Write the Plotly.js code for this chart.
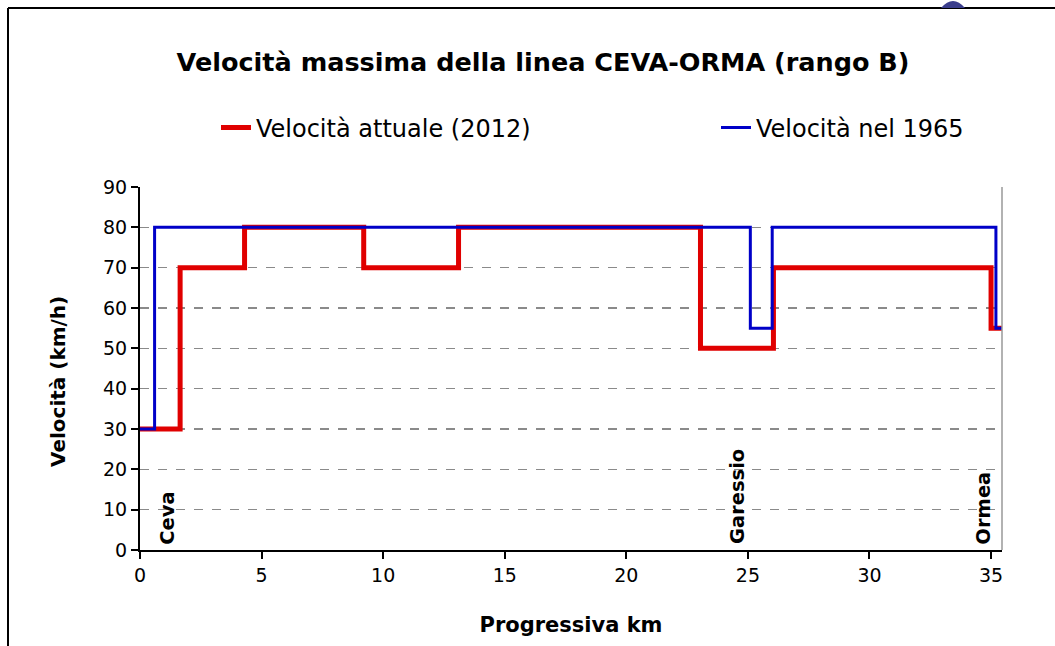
<!DOCTYPE html>
<html>
<head>
<meta charset="utf-8">
<script src="https://cdn.plot.ly/plotly-3.0.1.min.js"></script>
<style>html,body{margin:0;padding:0;background:#fff;}#chart{width:1055px;height:646px;}</style>
</head>
<body>
<div id="chart"></div>
<script>
// ---- data ----
const kmAttuale = [0, 1.65, 4.3, 9.2, 13.1, 23.05, 26.05, 35.0, 35.45];
const velAttuale = [30, 70, 80, 70, 80, 50, 70, 55, 55];
const km1965 = [0, 0.6, 25.1, 26.0, 35.2, 35.45];
const vel1965 = [30, 80, 55, 80, 55, 55];
const stationNames = ["Ceva", "Garessio", "Ormea"];
const stationKm = [1.15, 24.6, 34.7];
const seriesNames = ["Velocità attuale (2012)", "Velocità nel 1965"];
const yTicks = [0, 10, 20, 30, 40, 50, 60, 70, 80, 90];
const xTicks = [0, 5, 10, 15, 20, 25, 30, 35];

// ---- layout helpers (plot area in pixels) ----
const L = 140, R = 1002, T = 187, B = 550;
const px = v => (v - L) / (R - L);
const py = v => (B - v) / (B - T);
const FONT = "DejaVu Sans, Verdana, sans-serif";

const traces = [
  {x: kmAttuale, y: velAttuale, name: seriesNames[0], mode: "lines", legend: "legend",
   line: {shape: "hv", color: "#e00000", width: 5}},
  {x: km1965, y: vel1965, name: seriesNames[1], mode: "lines", legend: "legend2",
   line: {shape: "hv", color: "#0000c8", width: 3}}
];

const annotations = stationNames.map((n, i) => ({
  x: stationKm[i], y: 0.9, xref: "x", yref: "y", text: n, showarrow: false,
  textangle: -90, xanchor: "center", yanchor: "bottom",
  font: {family: FONT, size: 19.5, color: "#000", weight: "bold"}
}));
annotations.push({
  x: px(58), y: py(382), xref: "paper", yref: "paper", text: "Velocità (km/h)",
  showarrow: false, textangle: -90, xanchor: "center", yanchor: "middle",
  font: {family: FONT, size: 20, color: "#000", weight: "bold"}
});

const legendBase = {orientation: "h", xanchor: "left", yanchor: "middle",
  font: {family: FONT, size: 24, color: "#000"}, bgcolor: "rgba(0,0,0,0)"};

const layout = {
  width: 1055, height: 646,
  paper_bgcolor: "#fff", plot_bgcolor: "#fff",
  margin: {l: L, r: 1055 - R, t: T, b: 646 - B, pad: 0},
  title: {text: "Velocità massima della linea CEVA-ORMA (rango B)",
    xref: "container", yref: "container", x: 543 / 1055, y: 1 - 62 / 646,
    xanchor: "center", yanchor: "middle",
    font: {family: FONT, size: 25.5, color: "#000", weight: "bold"}},
  showlegend: true,
  legend: Object.assign({x: px(216), y: py(128)}, legendBase),
  legend2: Object.assign({x: px(716), y: py(128)}, legendBase),
  xaxis: {range: [0, 35.45], tickvals: xTicks, ticktext: xTicks.map(String),
    showgrid: false, zeroline: false, showline: true, linecolor: "#000", linewidth: 2,
    ticks: "outside", ticklen: 7, tickcolor: "#000", tickwidth: 2,
    tickfont: {family: FONT, size: 19, color: "#000"},
    title: {text: "Progressiva km", standoff: 33,
      font: {family: FONT, size: 21, color: "#000", weight: "bold"}}},
  yaxis: {range: [0, 90], tickvals: yTicks, ticktext: yTicks.map(String),
    showgrid: true, gridcolor: "#8a8a8a", griddash: "dash", gridwidth: 1.5,
    zeroline: false, showline: true, linecolor: "#000", linewidth: 2,
    ticks: "outside", ticklen: 7, tickcolor: "#000", tickwidth: 2,
    tickfont: {family: FONT, size: 19, color: "#000"}},
  annotations: annotations,
  shapes: [
    {type: "line", xref: "paper", yref: "paper", x0: 1, x1: 1, y0: 0, y1: 1,
     line: {color: "#999", width: 1.5}},
    {type: "line", xref: "paper", yref: "paper", x0: px(8), x1: px(8), y0: py(8), y1: py(660),
     line: {color: "#000", width: 2}},
    {type: "line", xref: "paper", yref: "paper", x0: px(8), x1: px(1070), y0: py(8), y1: py(8),
     line: {color: "#000", width: 2}},
    {type: "path", xref: "paper", yref: "paper", fillcolor: "#3a3d8c", line: {width: 0},
     path: `M ${px(941)},${py(8)} Q ${px(953)},${py(-6)} ${px(965)},${py(8)} Z`}
  ]
};

Plotly.newPlot("chart", traces, layout, {displayModeBar: false, staticPlot: true});
</script>
</body>
</html>
